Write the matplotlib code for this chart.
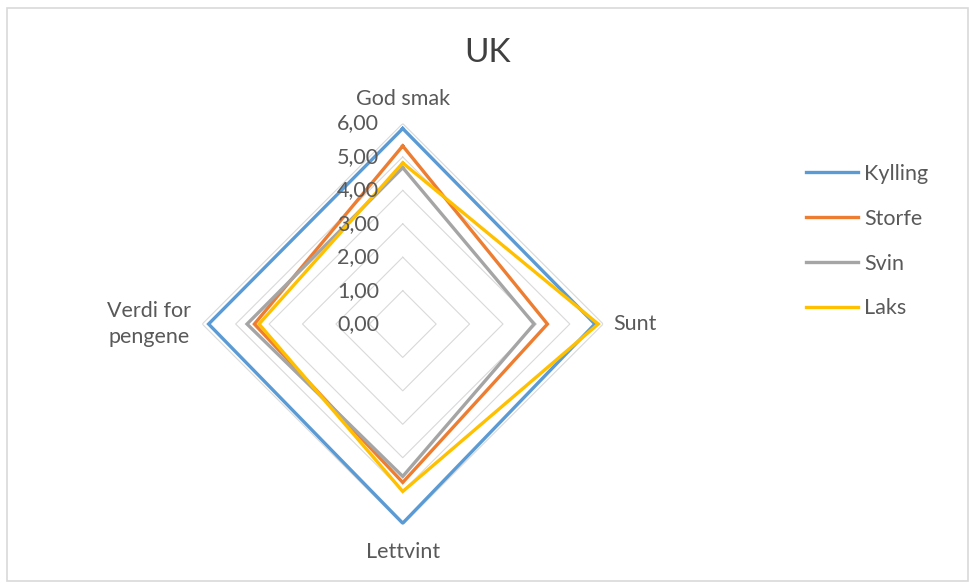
import numpy as np
import matplotlib
matplotlib.use("Agg")
import matplotlib.pyplot as plt
from matplotlib.patches import Rectangle

plt.rcParams["font.family"] = ["Lato", "DejaVu Sans"]

# categories clockwise from the top
categories = ["God smak", "Sunt", "Lettvint", "Verdi for\npengene"]
series_names = ["Kylling", "Storfe", "Svin", "Laks"]
kylling = [5.85, 5.75, 5.96, 5.81]
storfe = [5.33, 4.33, 4.74, 4.44]
svin = [4.68, 3.93, 4.56, 4.66]
laks = [4.82, 5.85, 5.01, 4.30]
grid_levels = [1, 2, 3, 4, 5, 6]
tick_labels = ["0,00", "1,00", "2,00", "3,00", "4,00", "5,00", "6,00"]

colors = ["#5B9BD5", "#ED7D31", "#A5A5A5", "#FFC000"]
text_color = "#595959"

fig = plt.figure(figsize=(9.7, 5.83), dpi=100)
ax = fig.add_axes([0.2085, 0.1003, 0.4134, 0.6878], projection="polar")
ax.set_theta_offset(np.pi / 2)
ax.set_theta_direction(-1)
ax.set_ylim(0, 6)
ax.grid(False)
ax.set_xticks([])
ax.set_yticks([])
ax.spines["polar"].set_visible(False)
ax.patch.set_alpha(0)

angles = np.linspace(0, 2 * np.pi, len(categories), endpoint=False)
closed = np.append(angles, angles[0])

# square grid
for lvl in grid_levels:
    ax.plot(closed, [lvl] * len(closed), color="#D9D9D9", lw=0.8, zorder=1)

for name, vals, c in zip(series_names, [kylling, storfe, svin, laks], colors):
    ax.plot(closed, vals + vals[:1], color=c, lw=2.4, label=name, zorder=3,
            solid_joinstyle="miter")

# value labels along the top axis
for i, lab in enumerate(tick_labels):
    ax.annotate(lab, xy=(0, i), xytext=(-17, 0), textcoords="offset points",
                ha="right", va="center", fontsize=15.5, color=text_color,
                annotation_clip=False, zorder=4)

# category labels
offsets = [(0, 18, "center", "center"), (7, 0, "left", "center"),
           (0, -19.5, "center", "center"), (-8, 0, "right", "center")]
for ang, cat, (dx, dy, ha, va) in zip(angles, categories, offsets):
    ax.annotate(cat, xy=(ang, 6), xytext=(dx, dy), textcoords="offset points",
                ha=ha, va=va, fontsize=15.5, color=text_color,
                multialignment="center", linespacing=1.35,
                annotation_clip=False)

fig.text(488 / 970, 1 - 53 / 583, "UK", ha="center", va="center",
         fontsize=24, color="#404040")

fig.legend(loc="upper left", bbox_to_anchor=(806 / 970, 1 - 164 / 583),
           frameon=False, fontsize=15.5, handlelength=2.42, handletextpad=0.28,
           labelspacing=1.15, borderpad=0, borderaxespad=0, labelcolor=text_color)

fig.add_artist(Rectangle((7 / 970, 2 / 583), 961 / 970, 573 / 583,
                         transform=fig.transFigure, fill=False,
                         edgecolor="#D9D9D9", lw=1.2))

fig.savefig("out.png", dpi=100)
